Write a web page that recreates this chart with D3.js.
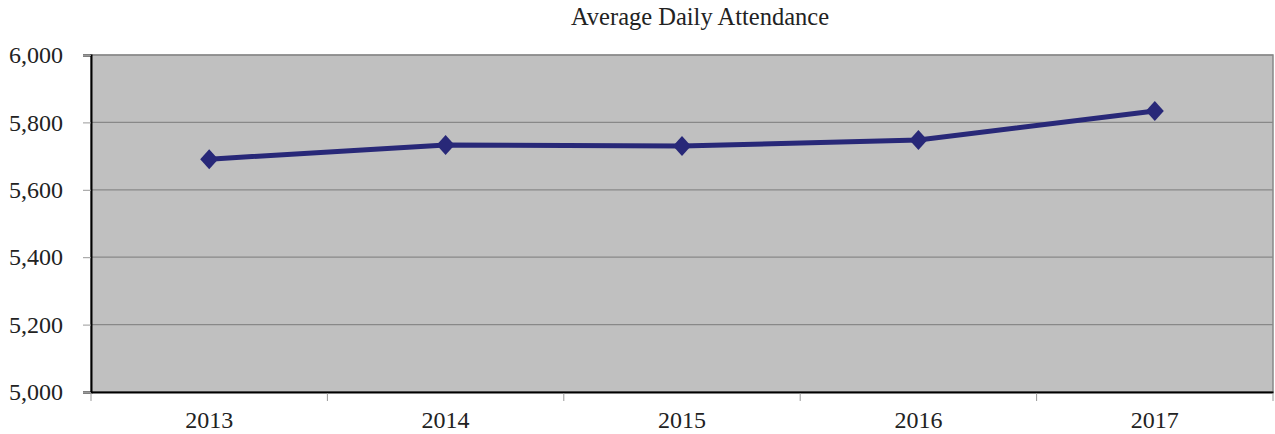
<!DOCTYPE html>
<html>
<head>
<meta charset="utf-8">
<script src="https://cdn.jsdelivr.net/npm/d3@7"></script>
<style>
  body { margin: 0; background: #fff; }
  svg text { font-family: "Liberation Serif", "Times New Roman", serif; fill: #222; }
</style>
</head>
<body>
<div id="chart"></div>
<script>
// data
const years = ["2013", "2014", "2015", "2016", "2017"];
const attendance = [5691, 5733, 5730, 5748, 5834];
const yTicks = [5000, 5200, 5400, 5600, 5800, 6000];

const width = 1275, height = 434;
const margin = { left: 91, right: 2, top: 55, bottom: 42 };

const svg = d3.select("#chart").append("svg")
  .attr("width", width)
  .attr("height", height);

const x = d3.scaleBand()
  .domain(years)
  .range([margin.left, width - margin.right]);

const y = d3.scaleLinear()
  .domain([5000, 6000])
  .range([height - margin.bottom, margin.top]);

// plot background
svg.append("rect")
  .attr("x", margin.left).attr("y", margin.top)
  .attr("width", width - margin.left - margin.right)
  .attr("height", height - margin.top - margin.bottom)
  .attr("fill", "#c0c0c0")
  .attr("stroke", "#888")
  .attr("stroke-width", 1.5);

// horizontal grid
svg.append("g")
  .selectAll("line")
  .data(yTicks)
  .join("line")
  .attr("x1", margin.left).attr("x2", width - margin.right)
  .attr("y1", d => y(d)).attr("y2", d => y(d))
  .attr("stroke", "#888")
  .attr("stroke-width", 1.2);

// y axis
const yAxis = svg.append("g")
  .attr("transform", `translate(${margin.left},0)`)
  .call(d3.axisLeft(y).tickValues(yTicks).tickSize(8).tickPadding(20).tickFormat(d3.format(",")));
yAxis.select(".domain").attr("stroke", "#000").attr("stroke-width", 2);
yAxis.selectAll(".tick line").attr("stroke", "#999");
yAxis.selectAll(".tick text").attr("font-size", 24).attr("fill", "#222")
  .style("font-family", "'Liberation Serif', serif");

// x axis, ticks between categories
const xAxis = svg.append("g")
  .attr("transform", `translate(0,${height - margin.bottom})`)
  .call(d3.axisBottom(x).tickSize(0).tickPadding(19));
xAxis.select(".domain").attr("stroke", "#000").attr("stroke-width", 2);
xAxis.selectAll(".tick text").attr("font-size", 24).attr("fill", "#222")
  .style("font-family", "'Liberation Serif', serif");

const bounds = years.map(d => x(d)).concat([x(years[years.length - 1]) + x.bandwidth()]);
xAxis.selectAll(".sep")
  .data(bounds)
  .join("line")
  .attr("class", "sep")
  .attr("x1", d => d).attr("x2", d => d)
  .attr("y1", 1).attr("y2", 9)
  .attr("stroke", "#999");

// line
const line = d3.line()
  .x((d, i) => x(years[i]) + x.bandwidth() / 2)
  .y(d => y(d));

svg.append("path")
  .datum(attendance)
  .attr("d", line)
  .attr("fill", "none")
  .attr("stroke", "#282878")
  .attr("stroke-width", 5);

// diamond markers
svg.append("g")
  .selectAll("path")
  .data(attendance)
  .join("path")
  .attr("transform", (d, i) => `translate(${x(years[i]) + x.bandwidth() / 2},${y(d)})`)
  .attr("d", "M0,-10L9,0L0,10L-9,0Z")
  .attr("fill", "#282878");

// title
svg.append("text")
  .attr("x", 700).attr("y", 25)
  .attr("text-anchor", "middle")
  .attr("font-size", 24.5)
  .text("Average Daily Attendance");
</script>
</body>
</html>
